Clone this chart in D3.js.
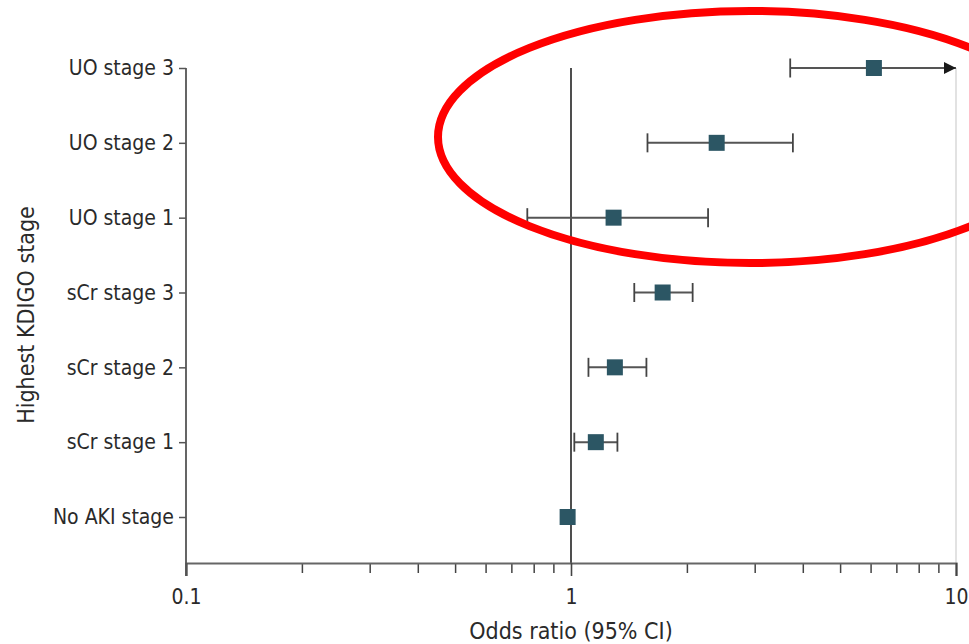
<!DOCTYPE html>
<html>
<head>
<meta charset="utf-8">
<script src="https://cdn.jsdelivr.net/npm/d3@7"></script>
<style>
  html, body { margin: 0; padding: 0; background: #fff; }
  svg { display: block; }
  text { font-family: "Liberation Sans Narrow", "DejaVu Sans Condensed", "Roboto", sans-serif; fill: #2a2a2a; }
</style>
</head>
<body>
<svg id="chart" width="969" height="644"></svg>
<script>
// ---- data ----
const categories = ["UO stage 3", "UO stage 2", "UO stage 1", "sCr stage 3", "sCr stage 2", "sCr stage 1", "No AKI stage"];
const oddsRatio  = [6.12, 2.39, 1.29, 1.73, 1.30, 1.16, 0.98];
const ciLower    = [3.71, 1.58, 0.77, 1.46, 1.11, 1.02, null];
const ciUpper    = [10,   3.77, 2.27, 2.07, 1.57, 1.32, null];
const ciTruncated = [true, false, false, false, false, false, false];
const xTickValues = [0.1, 1, 10];
const xTickLabels = ["0.1", "1", "10"];
const xMinorTicks = [0.2,0.3,0.4,0.5,0.6,0.7,0.8,0.9,2,3,4,5,6,7,8,9];
const xTitle = "Odds ratio (95% CI)";
const yTitle = "Highest KDIGO stage";

// ---- layout ----
const svg = d3.select("#chart");
const plotLeft = 186, plotRight = 956, plotTop = 68, rowBottom = 517, axisY = 563;

const x = d3.scaleLog().domain([0.1, 10]).range([plotLeft, plotRight]);
const y = d3.scalePoint().domain(categories).range([plotTop, rowBottom]);

const rows = categories.map((c, i) => ({
  cat: c, or: oddsRatio[i], lo: ciLower[i], hi: ciUpper[i], trunc: ciTruncated[i]
}));

const FONT = '"Liberation Sans Narrow", "DejaVu Sans Condensed", sans-serif';

// right frame line (light)
svg.append("line")
  .attr("x1", x(10)).attr("x2", x(10))
  .attr("y1", plotTop).attr("y2", axisY)
  .attr("stroke", "#d8d8d8").attr("stroke-width", 1.5);

// reference line at OR = 1
svg.append("line")
  .attr("x1", x(1)).attr("x2", x(1))
  .attr("y1", plotTop).attr("y2", axisY)
  .attr("stroke", "#222").attr("stroke-width", 1.6);

// x axis: minor ticks
const xAxisMinor = d3.axisBottom(x).tickValues(xMinorTicks).tickSize(10).tickFormat("");
const gMinor = svg.append("g").attr("transform", `translate(0,${axisY})`).call(xAxisMinor);
gMinor.select(".domain").remove();
gMinor.selectAll(".tick line").attr("stroke", "#444").attr("stroke-width", 1.5);

// x axis: major ticks + labels
const xAxis = d3.axisBottom(x).tickValues(xTickValues).tickSize(13)
  .tickFormat((d, i) => xTickLabels[i]).tickPadding(13);
const gx = svg.append("g").attr("transform", `translate(0,${axisY})`).call(xAxis);
gx.select(".domain").attr("stroke", "#666").attr("stroke-width", 2.2);
gx.selectAll(".tick line").attr("stroke", "#444").attr("stroke-width", 1.6);
gx.selectAll(".tick text")
  .attr("font-size", 21).attr("fill", "#2a2a2a")
  .style("font-family", FONT);

// y axis
const yAxis = d3.axisLeft(y).tickSize(7).tickSizeOuter(0).tickPadding(5);
const gy = svg.append("g").attr("transform", `translate(${plotLeft},0)`).call(yAxis);
gy.select(".domain").remove();
gy.selectAll(".tick line").attr("stroke", "#555").attr("stroke-width", 1.5);
gy.selectAll(".tick text")
  .attr("font-size", 21).attr("fill", "#2a2a2a")
  .style("font-family", FONT);
svg.append("line")
  .attr("x1", plotLeft).attr("x2", plotLeft)
  .attr("y1", plotTop).attr("y2", axisY + 13)
  .attr("stroke", "#555").attr("stroke-width", 1.8);

// arrow marker
svg.append("defs").append("marker")
  .attr("id", "arrow").attr("viewBox", "0 0 10 10")
  .attr("refX", 10).attr("refY", 5)
  .attr("markerWidth", 14).attr("markerHeight", 12)
  .attr("markerUnits", "userSpaceOnUse")
  .attr("orient", "auto")
  .append("path").attr("d", "M0,0 L10,5 L0,10 Z").attr("fill", "#1a1a1a");

// CI lines
const ciRows = rows.filter(d => d.lo != null);
const cap = 9.5;
const g = svg.append("g");
g.selectAll("line.ci").data(ciRows).join("line").attr("class", "ci")
  .attr("x1", d => x(d.lo)).attr("x2", d => x(d.hi))
  .attr("y1", d => y(d.cat)).attr("y2", d => y(d.cat))
  .attr("stroke", "#555").attr("stroke-width", 2)
  .attr("marker-end", d => d.trunc ? "url(#arrow)" : null);
g.selectAll("line.capL").data(ciRows).join("line").attr("class", "capL")
  .attr("x1", d => x(d.lo)).attr("x2", d => x(d.lo))
  .attr("y1", d => y(d.cat) - cap).attr("y2", d => y(d.cat) + cap)
  .attr("stroke", "#444").attr("stroke-width", 1.8);
g.selectAll("line.capR").data(ciRows.filter(d => !d.trunc)).join("line").attr("class", "capR")
  .attr("x1", d => x(d.hi)).attr("x2", d => x(d.hi))
  .attr("y1", d => y(d.cat) - cap).attr("y2", d => y(d.cat) + cap)
  .attr("stroke", "#444").attr("stroke-width", 1.8);

// squares
const sq = 16;
g.selectAll("rect.pt").data(rows).join("rect").attr("class", "pt")
  .attr("x", d => x(d.or) - sq / 2).attr("y", d => y(d.cat) - sq / 2)
  .attr("width", sq).attr("height", sq)
  .attr("fill", "#2c5664");

// axis titles
svg.append("text")
  .attr("x", x(1)).attr("y", 639)
  .attr("text-anchor", "middle").attr("font-size", 23)
  .text(xTitle);
svg.append("text")
  .attr("transform", `translate(34,315) rotate(-90)`)
  .attr("text-anchor", "middle").attr("font-size", 23)
  .text(yTitle);

// red annotation ellipse
svg.append("ellipse")
  .attr("cx", 750).attr("cy", 137).attr("rx", 312).attr("ry", 126)
  .attr("fill", "none").attr("stroke", "#ff0000").attr("stroke-width", 8);
</script>
</body>
</html>
